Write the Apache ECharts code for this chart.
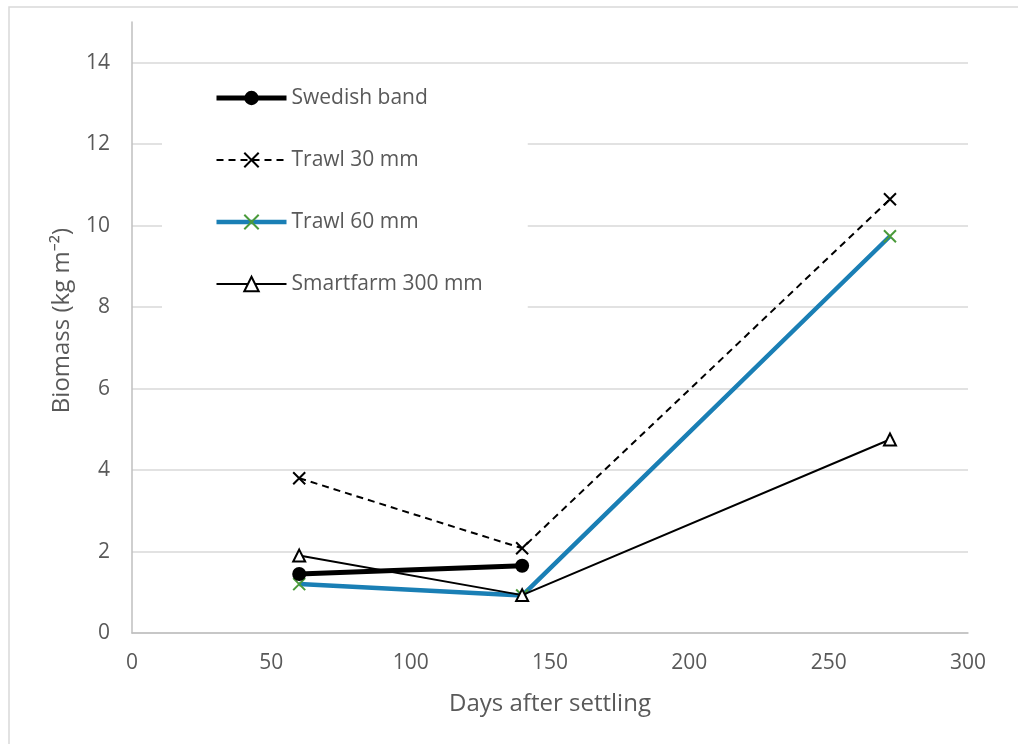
<!DOCTYPE html>
<html>
<head>
<meta charset="utf-8">
<script src="https://cdn.jsdelivr.net/npm/echarts@6/dist/echarts.min.js"></script>
<style>
  html, body { margin: 0; padding: 0; background: #fff; }
  #chart { width: 1018px; height: 744px; }
</style>
</head>
<body>
<div id="chart"></div>
<script>
// Biomass sampled at days after settling, per cultivation method
const seriesNames = ['Swedish band', 'Trawl 30 mm', 'Trawl 60 mm', 'Smartfarm 300 mm'];
const swedishBand = [[60, 1.45], [140, 1.65]];
const trawl30 = [[60, 3.8], [140, 2.08], [272, 10.65]];
const trawl60 = [[60, 1.2], [140, 0.92], [272, 9.74]];
const smartfarm300 = [[60, 1.9], [140, 0.93], [272, 4.75]];
const xTicks = [0, 50, 100, 150, 200, 250, 300];
const yTicks = [0, 2, 4, 6, 8, 10, 12, 14];

const FONT = '"Open Sans", "Noto Sans", sans-serif';
const TEXT = '#595959';
const GRID = '#d9d9d9';
const crossPath = 'path://M0,0L10,10M10,0L0,10';

const styles = {
  swedish: { line: { color: '#000', width: 5 }, item: { color: '#000', borderColor: '#000', borderWidth: 0 } },
  trawl30: { line: { color: '#000', width: 2, type: [7, 5] }, item: { color: 'none', borderColor: '#000', borderWidth: 2 } },
  trawl60: { line: { color: '#1a7fb5', width: 4.5 }, item: { color: 'none', borderColor: '#4a9a3a', borderWidth: 2 } },
  smart: { line: { color: '#000', width: 2 }, item: { color: '#fff', borderColor: '#000', borderWidth: 2 } }
};

const chart = echarts.init(document.getElementById('chart'), null, { renderer: 'canvas' });

// one split line per tick; the extra tick at the axis max stays invisible
const splitColors = yTicks.map(() => GRID).concat(['rgba(0,0,0,0)']);

chart.setOption({
  animation: false,
  backgroundColor: '#fff',
  graphic: [{
    type: 'rect',
    shape: { x: 9, y: 7, width: 1030, height: 760 },
    style: { fill: 'none', stroke: GRID, lineWidth: 1.5 },
    silent: true
  }],
  grid: { left: 132, right: 50, top: 22, bottom: 111 },
  legend: {
    orient: 'vertical',
    left: 162,
    top: 71,
    padding: [16, 45, 14, 52],
    backgroundColor: '#fff',
    itemWidth: 70,
    itemHeight: 18,
    itemGap: 40,
    textStyle: { color: TEXT, fontFamily: FONT, fontSize: 21, lineHeight: 22 },
    data: [
      { name: seriesNames[0], lineStyle: styles.swedish.line, itemStyle: styles.swedish.item },
      { name: seriesNames[1], lineStyle: styles.trawl30.line, itemStyle: styles.trawl30.item },
      { name: seriesNames[2], lineStyle: styles.trawl60.line, itemStyle: styles.trawl60.item },
      { name: seriesNames[3], lineStyle: styles.smart.line, itemStyle: styles.smart.item }
    ]
  },
  xAxis: {
    type: 'value',
    min: xTicks[0],
    max: xTicks[xTicks.length - 1],
    interval: 50,
    name: 'Days after settling',
    nameLocation: 'middle',
    nameGap: 59,
    nameTextStyle: { color: TEXT, fontFamily: FONT, fontSize: 24 },
    axisLine: { show: true, lineStyle: { color: '#bfbfbf', width: 1.5 } },
    axisTick: { show: false },
    splitLine: { show: false },
    axisLabel: { color: TEXT, fontFamily: FONT, fontSize: 21, margin: 20 }
  },
  yAxis: {
    type: 'value',
    min: 0,
    max: 15,
    interval: 2,
    name: 'Biomass (kg m⁻²)',
    nameLocation: 'middle',
    nameGap: 58,
    nameTextStyle: { color: TEXT, fontFamily: FONT, fontSize: 24, padding: [0, 0, 0, 14] },
    axisLine: { show: true, lineStyle: { color: '#bfbfbf', width: 1.5 } },
    axisTick: { show: false },
    splitLine: { show: true, lineStyle: { color: splitColors, width: 1.5 } },
    axisLabel: { color: TEXT, fontFamily: FONT, fontSize: 21, margin: 22, showMaxLabel: false }
  },
  series: [
    {
      name: seriesNames[0],
      type: 'line',
      data: swedishBand,
      symbol: 'circle',
      symbolSize: 14,
      lineStyle: styles.swedish.line,
      itemStyle: styles.swedish.item,
      z: 4
    },
    {
      name: seriesNames[1],
      type: 'line',
      data: trawl30,
      symbol: crossPath,
      symbolSize: 12,
      lineStyle: styles.trawl30.line,
      itemStyle: styles.trawl30.item,
      z: 3
    },
    {
      name: seriesNames[2],
      type: 'line',
      data: trawl60,
      symbol: crossPath,
      symbolSize: 12,
      lineStyle: styles.trawl60.line,
      itemStyle: styles.trawl60.item,
      z: 2
    },
    {
      name: seriesNames[3],
      type: 'line',
      data: smartfarm300,
      symbol: 'triangle',
      symbolSize: 12,
      lineStyle: styles.smart.line,
      itemStyle: styles.smart.item,
      z: 5
    }
  ]
});
</script>
</body>
</html>
